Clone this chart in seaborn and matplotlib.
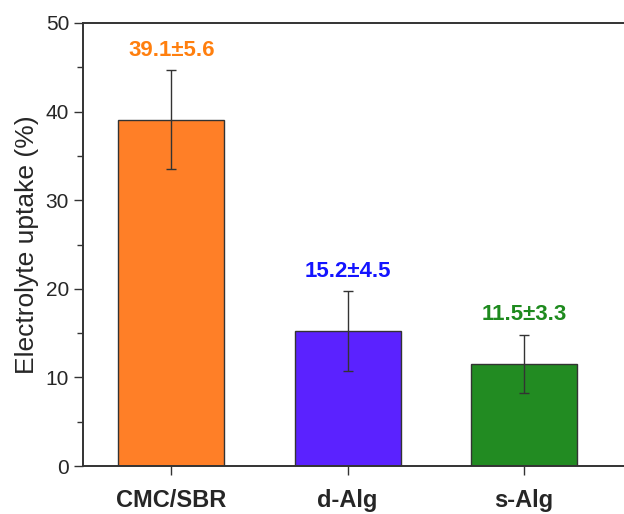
import matplotlib
matplotlib.use("Agg")
import matplotlib.pyplot as plt
import seaborn as sns
import pandas as pd
import numpy as np
from matplotlib.ticker import MultipleLocator

categories = ["CMC/SBR", "d-Alg", "s-Alg"]
means = [39.1, 15.2, 11.5]
errors = [5.6, 4.5, 3.3]
bar_colors = ["#FF7F27", "#5B22FF", "#228B22"]
text_colors = ["#FF7F0E", "#1414FF", "#1E8A1E"]

sns.set_style("ticks")
plt.rcParams["font.family"] = ["Liberation Sans", "DejaVu Sans"]

df = pd.DataFrame({"cat": categories, "val": means})

fig = plt.figure(figsize=(6.24, 5.14), dpi=100)
ax = fig.add_axes([83 / 624, 48 / 514, (630 - 83) / 624, (466 - 23) / 514])

sns.barplot(data=df, x="cat", y="val", hue="cat", palette=bar_colors,
            saturation=1, width=0.6, edgecolor="#333333", linewidth=1.0,
            legend=False, ax=ax, errorbar=None)

x = np.arange(len(categories))
ax.errorbar(x, means, yerr=errors, fmt="none", ecolor="#333333",
            elinewidth=1.0, capsize=3.3, capthick=1.0)

for xi, m, e, c in zip(x, means, errors, text_colors):
    ax.text(xi, m + e + 2.25, f"{m}\u00b1{e}", color=c, ha="center", va="center",
            fontsize=16, fontweight="bold")

ax.set_ylim(0, 50)
ax.set_xlim(-0.5, 2.6)
ax.yaxis.set_major_locator(MultipleLocator(10))
ax.yaxis.set_minor_locator(MultipleLocator(5))
ax.tick_params(axis="y", which="major", labelsize=15, length=6.5, width=1.0, direction="out", color="#333333")
ax.tick_params(axis="y", which="minor", length=4, width=1.0, direction="out", color="#333333")
ax.tick_params(axis="x", which="major", labelsize=17, length=6.5, width=1.0, direction="out", color="#333333", pad=10)
for lab in ax.get_xticklabels():
    lab.set_fontweight("bold")

ax.set_xlabel("")
ax.set_ylabel("Electrolyte uptake (%)", fontsize=19, labelpad=5)
for s in ax.spines.values():
    s.set_color("#333333")
    s.set_linewidth(1.4)

fig.savefig("out.png", dpi=100)
